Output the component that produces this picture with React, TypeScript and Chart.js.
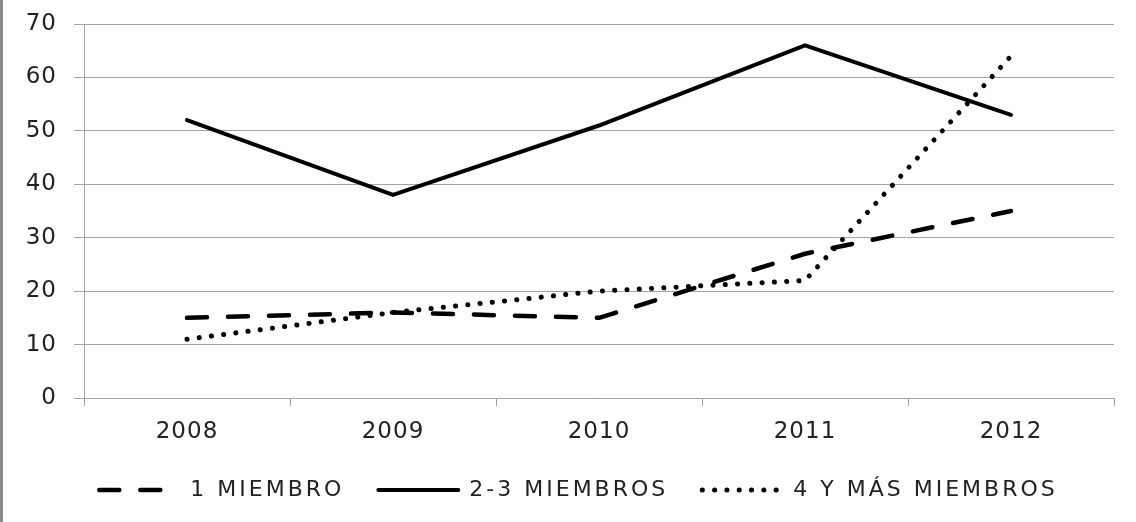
import { useEffect, useRef } from 'react';
import { Chart, registerables } from 'chart.js';

Chart.register(...registerables);

const years = ['2008', '2009', '2010', '2011', '2012'];
const oneMember = [15, 16, 15, 27, 35];
const twoThreeMembers = [52, 38, 51, 66, 53];
const fourPlusMembers = [11, 16, 20, 22, 64];
const seriesNames = ['1 MIEMBRO', '2-3 MIEMBROS', '4 Y MÁS MIEMBROS'];
const yMin = 0;
const yMax = 70;
const yStep = 10;

const FONT = "'DejaVu Sans', sans-serif";
const TEXT = '#222222';
const GRID = '#a3a3a3';

export default function App() {
  const ref = useRef<HTMLCanvasElement>(null);

  useEffect(() => {
    const canvas = ref.current;
    if (!canvas) return;

    const spacingPlugin = {
      id: 'letterSpacing',
      beforeUpdate(chart: any) {
        const lg = chart.legend;
        if (lg && !lg.__patched) {
          lg.__patched = true;
          const fit = lg.fit;
          const draw = lg.draw;
          lg.fit = function (this: any) {
            const c = this.ctx;
            const p = c.letterSpacing;
            c.letterSpacing = '3px';
            fit.call(this);
            c.letterSpacing = p;
            this.height = 77;
          };
          lg.draw = function (this: any, ...args: any[]) {
            const c = this.ctx;
            const p = c.letterSpacing;
            c.save();
            c.translate(20, 0);
            c.letterSpacing = '3px';
            draw.apply(this, args);
            c.restore();
            c.letterSpacing = p;
          };
        }
      },
      beforeLayout(chart: any) {
        chart.ctx.letterSpacing = '1px';
      },
      beforeDraw(chart: any) {
        chart.ctx.letterSpacing = '1px';
      },
    };

    const chart = new Chart(canvas, {
      type: 'line',
      data: {
        labels: years,
        datasets: [
          {
            label: seriesNames[0],
            data: oneMember,
            borderColor: '#000000',
            backgroundColor: '#000000',
            borderWidth: 4.5,
            borderDash: [20, 21],
            borderCapStyle: 'round',
            borderJoinStyle: 'round',
            pointRadius: 0,
            tension: 0,
            fill: false,
          },
          {
            label: seriesNames[1],
            data: twoThreeMembers,
            borderColor: '#000000',
            backgroundColor: '#000000',
            borderWidth: 4,
            borderCapStyle: 'round',
            borderJoinStyle: 'round',
            pointRadius: 0,
            tension: 0,
            fill: false,
          },
          {
            label: seriesNames[2],
            data: fourPlusMembers,
            borderColor: '#000000',
            backgroundColor: '#000000',
            borderWidth: 5,
            borderDash: [0.1, 12.2],
            borderCapStyle: 'round',
            borderJoinStyle: 'round',
            pointRadius: 0,
            tension: 0,
            fill: false,
          },
        ],
      },
      options: {
        animation: false,
        responsive: false,
        devicePixelRatio: 1,
        layout: { padding: { left: 0, right: 22, top: 24, bottom: 0 } },
        plugins: {
          tooltip: { enabled: false },
          title: { display: false },
          legend: {
            display: true,
            position: 'bottom',
            labels: {
              usePointStyle: true,
              pointStyle: 'line',
              pointStyleWidth: 80,
              padding: 34,
              color: TEXT,
              font: { family: FONT, size: 22 },
              generateLabels(c: any) {
                const items = (Chart.defaults as any).plugins.legend.labels.generateLabels(c);
                items.forEach((it: any) => {
                  const ds = c.data.datasets[it.datasetIndex];
                  it.lineDash = ds.borderDash || [];
                  it.lineDashOffset = 0;
                  it.lineWidth = ds.borderWidth;
                  it.lineCap = 'round';
                  it.strokeStyle = '#000000';
                  it.fillStyle = 'rgba(0,0,0,0)';
                  it.pointStyle = 'line';
                  it.fontColor = TEXT;
                });
                return items;
              },
            },
          },
        },
        scales: {
          x: {
            type: 'category',
            offset: true,
            grid: {
              display: true,
              drawOnChartArea: false,
              drawTicks: true,
              tickLength: 8,
              offset: true,
              color: GRID,
              lineWidth: 1,
            },
            border: { display: true, color: GRID, width: 1 },
            ticks: {
              color: TEXT,
              font: { family: FONT, size: 23 },
              padding: 12,
              maxRotation: 0,
              autoSkip: false,
            },
            afterFit(s: any) {
              s.height = 47;
            },
          },
          y: {
            min: yMin,
            max: yMax,
            grid: { color: GRID, lineWidth: 1, tickLength: 10, drawTicks: true },
            border: { display: true, color: GRID, width: 1 },
            ticks: {
              stepSize: yStep,
              color: TEXT,
              font: { family: FONT, size: 23 },
              padding: 17,
            },
            afterFit(s: any) {
              s.width = 81;
              s.paddingTop = 14;
              s.paddingBottom = 14;
            },
          },
        },
      },
      plugins: [spacingPlugin],
    } as any);

    return () => chart.destroy();
  }, []);

  return (
    <div
      style={{
        position: 'absolute',
        left: 0,
        top: 0,
        width: 1136,
        height: 522,
        background: '#ffffff',
        borderLeft: '3px solid #8c8c8c',
        boxSizing: 'border-box',
      }}
    >
      <canvas ref={ref} width={1133} height={522} style={{ display: 'block', width: 1133, height: 522 }} />
    </div>
  );
}
